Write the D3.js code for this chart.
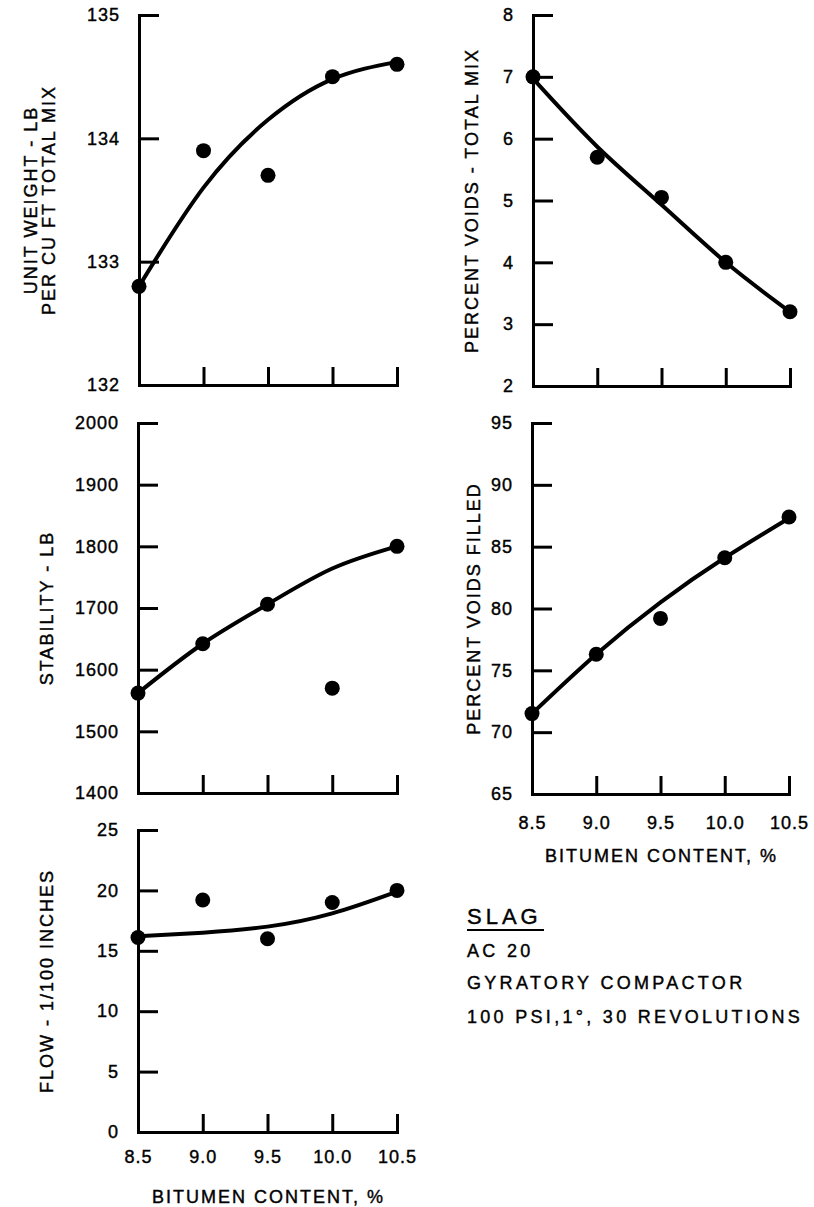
<!DOCTYPE html>
<html>
<head>
<meta charset="utf-8">
<script src="https://cdn.jsdelivr.net/npm/d3@7"></script>
<style>
    body { margin: 0; background: #fff; }
    svg { display: block; }
    text { font-family: "Liberation Sans", Arial, sans-serif; fill: #000; stroke: #000; stroke-width: 0.4px; }
</style>
</head>
<body>
<div id="chart"></div>
<script>

// bitumen content on the x axis (same for every panel)
const bitumen = [8.5, 9.0, 9.5, 10.0, 10.5];
const bitumenLabels = ["8.5", "9.0", "9.5", "10.0", "10.5"];

// unit weight, lb per cu ft
const unitWeight = [132.8, 133.9, 133.7, 134.5, 134.6];
const unitWeightFit = [132.8, 133.6, 134.15, 134.48, 134.62];
const unitWeightTicks = [132, 133, 134, 135];

// percent voids - total mix
const voidsTotal = [7.0, 5.7, 5.05, 4.0, 3.2];
const voidsTotalFit = [6.97, 5.87, 4.93, 4.0, 3.2];
const voidsTotalTicks = [2, 3, 4, 5, 6, 7, 8];

// stability, lb
const stability = [1562, 1642, 1706, 1570, 1800];
const stabilityFit = [1562, 1642, 1706, 1764, 1800];
const stabilityTicks = [1400, 1500, 1600, 1700, 1800, 1900, 2000];

// percent voids filled
const voidsFilled = [71.5, 76.3, 79.2, 84.1, 87.4];
const voidsFilledFit = [71.5, 76.3, 80.5, 84.1, 87.3];
const voidsFilledTicks = [65, 70, 75, 80, 85, 90, 95];

// flow, 1/100 inches
const flow = [16.1, 19.2, 16.0, 19.0, 20.0];
const flowFit = [16.2, 16.5, 17.0, 18.1, 19.9];
const flowTicks = [0, 5, 10, 15, 20, 25];

const xTitle = "BITUMEN CONTENT, %";
const noteTitle = "SLAG";
const noteLines = ["AC 20", "GYRATORY COMPACTOR", "100 PSI,1°, 30 REVOLUTIONS"];

// panels, data first then where they sit on the page
const panels = [
    {values: unitWeight, fit: unitWeightFit, ticks: unitWeightTicks,
        label: ["UNIT WEIGHT - LB", "PER CU FT TOTAL MIX"],
        x0: 139, x1: 397, y0: 15, y1: 385, labelX: [37, 55], showX: false},
    {values: voidsTotal, fit: voidsTotalFit, ticks: voidsTotalTicks,
        label: ["PERCENT VOIDS - TOTAL MIX"],
        x0: 533, x1: 790, y0: 15, y1: 386, labelX: [478], showX: false},
    {values: stability, fit: stabilityFit, ticks: stabilityTicks,
        label: ["STABILITY - LB"],
        x0: 138, x1: 397, y0: 423, y1: 793, labelX: [53], showX: false},
    {values: voidsFilled, fit: voidsFilledFit, ticks: voidsFilledTicks,
        label: ["PERCENT VOIDS FILLED"],
        x0: 532, x1: 789, y0: 423, y1: 794, labelX: [480], showX: true, pad: 22, titleY: 862},
    {values: flow, fit: flowFit, ticks: flowTicks,
        label: ["FLOW - 1/100 INCHES"],
        x0: 138, x1: 397, y0: 830, y1: 1132, labelX: [53], showX: true, pad: 18, titleY: 1203}
];

const width = 814, height = 1207;

const svg = d3.select("#chart").append("svg")
    .attr("width", width)
    .attr("height", height);

svg.append("rect").attr("width", width).attr("height", height).attr("fill", "#fff");

panels.forEach(p => {

    let x = d3.scaleLinear().domain([8.5, 10.5]).range([p.x0, p.x1]);
    let y = d3.scaleLinear().domain(d3.extent(p.ticks)).range([p.y1, p.y0]);

    let g = svg.append("g");

    // y axis, ticks pointing into the plot
    let yAxis = g.append("g")
        .attr("transform", `translate(${p.x0},0)`)
        .call(d3.axisLeft(y)
            .tickValues(p.ticks)
            .tickSizeInner(-20)
            .tickSizeOuter(0)
            .tickPadding(19)
            .tickFormat(d3.format("d")));

    // x axis, ticks pointing up
    let xAxis = g.append("g")
        .attr("transform", `translate(0,${p.y1})`)
        .call(d3.axisBottom(x)
            .tickValues(bitumen)
            .tickSizeInner(-18)
            .tickSizeOuter(0)
            .tickPadding(p.showX ? p.pad : 0)
            .tickFormat((d, i) => p.showX ? bitumenLabels[i] : ""));

    [yAxis, xAxis].forEach(a => {
        a.attr("font-family", null).attr("font-size", null);
        a.selectAll(".domain")
            .attr("stroke", "#000")
            .attr("stroke-width", 3)
            .attr("stroke-linecap", "square");
        a.selectAll(".tick line")
            .attr("stroke", "#000")
            .attr("stroke-width", 3);
        a.selectAll(".tick text")
            .style("font-size", "18px")
            .style("letter-spacing", "1px");
    });

    // axis title(s), rotated
    p.label.forEach((t, i) => {
        g.append("text")
            .attr("transform", `translate(${p.labelX[i]},${(p.y0 + p.y1) / 2}) rotate(-90)`)
            .attr("text-anchor", "middle")
            .style("font-size", "18px")
            .style("letter-spacing", "2px")
            .text(t);
    });

    if (p.showX) {
        g.append("text")
            .attr("x", (p.x0 + p.x1) / 2 + 1)
            .attr("y", p.titleY)
            .attr("text-anchor", "middle")
            .style("font-size", "18px")
            .style("letter-spacing", "2px")
            .text(xTitle);
    }

    // fitted curve
    let line = d3.line()
        .x((d, i) => x(bitumen[i]))
        .y(d => y(d))
        .curve(d3.curveNatural);

    g.append("path")
        .datum(p.fit)
        .attr("d", line)
        .attr("fill", "none")
        .attr("stroke", "#000")
        .attr("stroke-width", 4);

    // measured points
    g.selectAll("circle")
        .data(p.values)
        .enter()
        .append("circle")
        .attr("cx", (d, i) => x(bitumen[i]))
        .attr("cy", d => y(d))
        .attr("r", 7.5)
        .attr("fill", "#000");
});

// note block
let note = svg.append("g").attr("transform", "translate(467,0)");

note.append("text")
    .attr("x", 0)
    .attr("y", 924)
    .style("font-size", "22px")
    .style("letter-spacing", "4px")
    .text(noteTitle);

note.append("line")
    .attr("x1", 0).attr("x2", 77)
    .attr("y1", 930).attr("y2", 930)
    .attr("stroke", "#000")
    .attr("stroke-width", 2);

note.selectAll(".noteLine")
    .data(noteLines)
    .enter()
    .append("text")
    .attr("class", "noteLine")
    .attr("x", 0)
    .attr("y", (d, i) => [957, 989, 1023][i])
    .style("font-size", "18px")
    .style("letter-spacing", "3.3px")
    .text(d => d);

</script>
</body>
</html>
